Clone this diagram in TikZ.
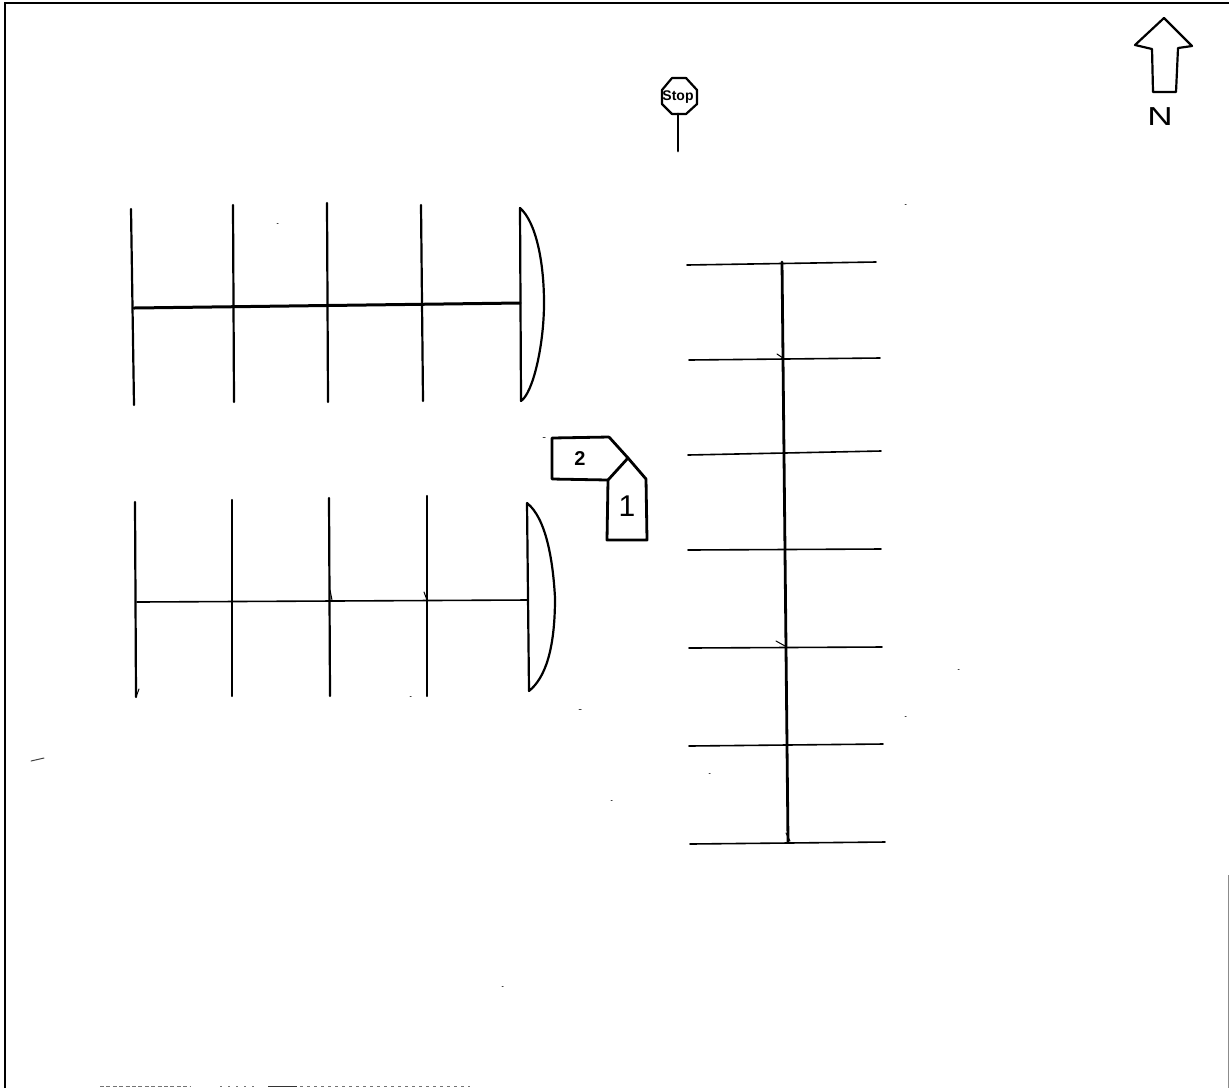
\documentclass[tikz,border=0pt]{standalone}
\usepackage{fontspec}
\setmainfont{Liberation Sans}
\tikzset{
  rail/.style={line width=1.1pt,black,line cap=round},
  railthin/.style={line width=0.8pt,black,line cap=round},
  spine/.style={line width=1.4pt,black,line cap=round},
  outline/.style={line width=1.1pt,black,line join=round,line cap=round},
  carline/.style={line width=1.4pt,black,line join=round,line cap=round},
  speck/.style={line width=0.5pt,black!75,line cap=round},
  hand/.style={inner sep=0pt}
}
\begin{document}
\begin{tikzpicture}[x=0.5pt,y=-0.5pt]
\useasboundingbox (0,0) rectangle (1229,1088);
% page frame
\draw[line width=1.4pt] (5,1088) -- (5,3) -- (1229,3);
\draw[line width=0.4pt,black!45] (1228,875) -- (1228,1088);
% north arrow
\draw[outline] (1164,18) -- (1192,46) -- (1178,48) -- (1176,92) -- (1153,92) -- (1152,49) -- (1135,45) -- cycle;
\node[hand,font=\fontsize{13pt}{13pt}\selectfont,xscale=1.35] (north) at (1160,117) {N};
% stop sign
\draw[outline] (672,78) -- (686,78) -- (697,90) -- (697,104) -- (686,114) -- (672,114) -- (662,104) -- (662,90) -- cycle;
\node[hand,font=\fontsize{7pt}{7pt}\selectfont\bfseries] (stop) at (678,97) {Stop};
\draw[spine] (678,114) -- (678,151);
% top-left group
\foreach \xa/\ya/\xb/\yb in {131/209/134/405, 233/205/234/402, 327/203/328/402, 421/205/423/401}{
  \draw[rail] (\xa,\ya) -- (\xb,\yb);
}
\draw[line width=1.5pt,line cap=round] (134,308) -- (520,303);
\draw[outline] (520,208) -- (521,401) .. controls (533,393) and (544,345) .. (544,303)
  .. controls (544,262) and (536,222) .. (520,208);
% lower-left group
\foreach \xa/\ya/\xb/\yb in {135/502/136/697, 232/500/232/696, 329/498/330/696, 427/496/427/696}{
  \draw[rail] (\xa,\ya) -- (\xb,\yb);
}
\draw[railthin] (137,602) -- (527,600);
\draw[outline] (527,503) -- (529,691) .. controls (545,678) and (555,650) .. (555,598)
  .. controls (553,560) and (546,518) .. (527,503);
% cars
\draw[carline] (609,437) -- (552,438) -- (552,479) -- (608,480) -- (628,458) -- (609,437);
\draw[carline] (608,480) -- (607,540) -- (647,540) -- (646,479) -- (628,458);
\node[hand,font=\fontsize{10pt}{10pt}\selectfont\bfseries] (two) at (580,459) {2};
\node[hand,font=\fontsize{15pt}{15pt}\selectfont] (one) at (627,506) {1};
% right group
\draw[spine] (782,262) -- (788,842);
\foreach \xa/\ya/\xb/\yb in {687/265/876/262, 689/360/880/358, 688/455/881/451, 688/550/881/549, 689/648/882/647, 689/746/883/744, 690/844/885/842}{
  \draw[railthin] (\xa,\ya) -- (\xb,\yb);
}
% small pen ticks
\foreach \xa/\ya/\xb/\yb in {777/354/783/358, 776/641/785/646, 330/590/332/600, 424/592/427/600, 136/697/139/689, 786/833/790/841}{
  \draw[line width=0.5pt,black,line cap=round] (\xa,\ya) -- (\xb,\yb);
}
% scan specks
\foreach \xa/\ya/\xb/\yb in {543/437/545/437, 905/204/906/204, 277/223/278/223, 579/709/581/709, 31/761/44/758, 958/669/959/669, 905/716/906/716, 709/773/710/773, 611/800/612/800, 502/986/503/986, 410/696/411/696}{
  \draw[speck] (\xa,\ya) -- (\xb,\yb);
}
% clipped print along the bottom edge
\draw[line width=0.5pt,black!55,dash pattern=on 2pt off 1.2pt] (100,1086.5) -- (190,1086.5);
\draw[line width=0.5pt,black!55,dash pattern=on 1pt off 3pt] (220,1086.5) -- (260,1086.5);
\draw[line width=0.8pt,black!80] (268,1086.5) -- (297,1086.5);
\draw[line width=0.5pt,black!55,dash pattern=on 1.5pt off 2pt] (300,1086.5) -- (470,1086.5);
\end{tikzpicture}
\end{document}
